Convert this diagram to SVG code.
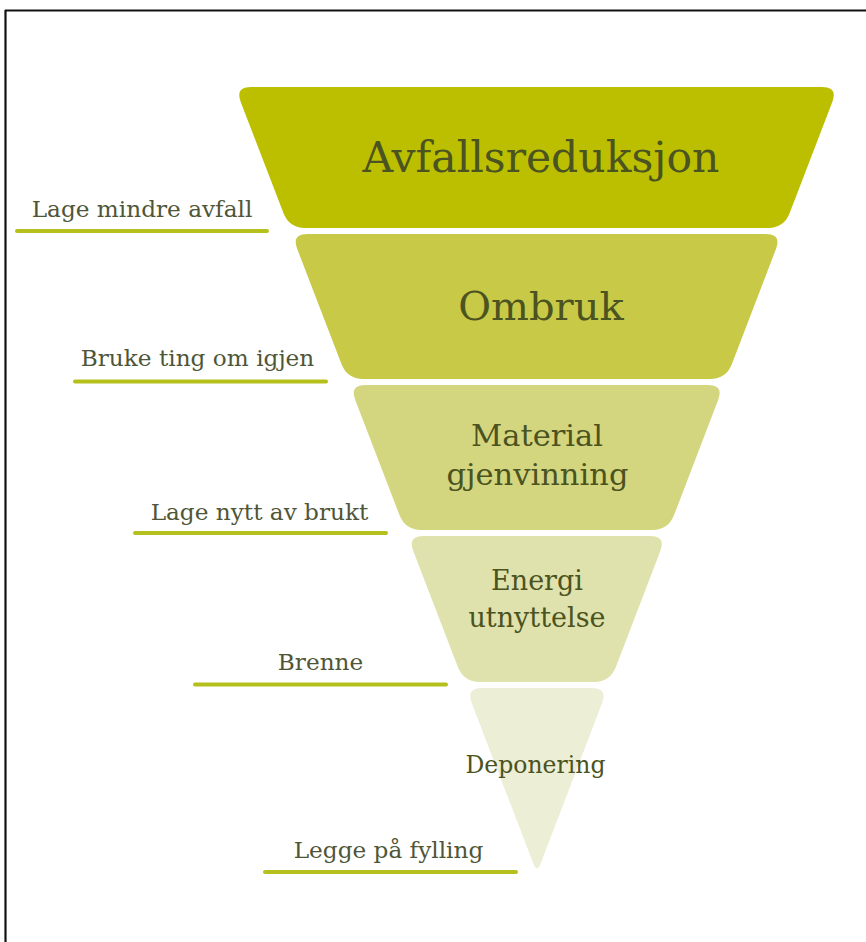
<svg xmlns="http://www.w3.org/2000/svg" width="866" height="942" viewBox="0 0 866 942">
<style>
.tier-text{font-family:"DejaVu Serif","Liberation Serif",serif;fill:#4b5320;text-anchor:middle}
.lbl{font-family:"DejaVu Serif","Liberation Serif",serif;fill:#4f5637;text-anchor:middle;font-size:23.2px}
.uline{stroke:#b6c01c;stroke-width:4;stroke-linecap:round;fill:none}
</style>
<rect width="866" height="942" fill="#ffffff"/>
<g id="frame" stroke="#111111" stroke-width="2.2" fill="none">
<line x1="5" y1="10.5" x2="866" y2="10.5"/>
<line x1="5.5" y1="10" x2="5.5" y2="942"/>
</g>
<g id="tier1">
<path d="M251,87 L822,87 Q838,87 832.3,101.9 L789.7,213.1 Q784,228 768,228 L305.17,228 Q289.17,228 283.44,213.1 L240.73,101.9 Q235,87 251,87 Z" fill="#bbbf00"/>
<text class="tier-text" x="541" y="172" font-size="42.5">Avfallsreduksjon</text>
</g>
<g id="tier2">
<path d="M307.48,234 L765.71,234 Q781.71,234 776,248.9 L731.9,364.1 Q726.18,379 710.18,379 L363.19,379 Q347.19,379 341.45,364.1 L297.22,248.9 Q291.48,234 307.48,234 Z" fill="#c7c947"/>
<text class="tier-text" x="541" y="320" font-size="40">Ombruk</text>
</g>
<g id="tier3">
<path d="M365.5,385 L707.88,385 Q723.88,385 718.16,399.9 L674.07,515.1 Q668.35,530 652.35,530 L421.21,530 Q405.21,530 399.47,515.1 L355.24,399.9 Q349.5,385 365.5,385 Z" fill="#d4d67f"/>
<text class="tier-text" x="537" y="446" font-size="30.5">Material</text>
<text class="tier-text" x="537.5" y="485" font-size="30.5">gjenvinning</text>
</g>
<g id="tier4">
<path d="M423.51,536 L650.06,536 Q666.06,536 660.34,550.9 L615.87,667.1 Q610.15,682 594.15,682 L479.61,682 Q463.61,682 457.87,667.1 L413.25,550.9 Q407.51,536 423.51,536 Z" fill="#e0e2ad"/>
<text class="tier-text" x="537" y="590" font-size="27">Energi</text>
<text class="tier-text" x="537" y="627" font-size="27">utnyttelse</text>
</g>
<g id="tier5">
<path d="M481.92,688 L591.85,688 Q607.85,688 602.13,702.9 L540.58,863.7 Q537,873 533.41,863.7 L471.66,702.9 Q465.92,688 481.92,688 Z" fill="#eceed6"/>
<text class="tier-text" x="535.5" y="773" font-size="23.5">Deponering</text>
</g>
<g id="label1">
<text class="lbl" x="142" y="217">Lage mindre avfall</text>
</g>
<g id="label2">
<text class="lbl" x="197.5" y="366">Bruke ting om igjen</text>
</g>
<g id="label3">
<text class="lbl" x="259.5" y="520">Lage nytt av brukt</text>
</g>
<g id="label4">
<text class="lbl" x="320.5" y="670">Brenne</text>
</g>
<g id="label5">
<text class="lbl" x="388.5" y="858">Legge på fylling</text>
</g>
<g id="connectors">
<line class="uline" x1="17" y1="231" x2="267" y2="231"/>
<line class="uline" x1="75" y1="381.5" x2="326" y2="381.5"/>
<line class="uline" x1="135" y1="533" x2="386" y2="533"/>
<line class="uline" x1="195" y1="684.5" x2="446" y2="684.5"/>
<line class="uline" x1="265" y1="872" x2="516" y2="872"/>
</g>
</svg>
